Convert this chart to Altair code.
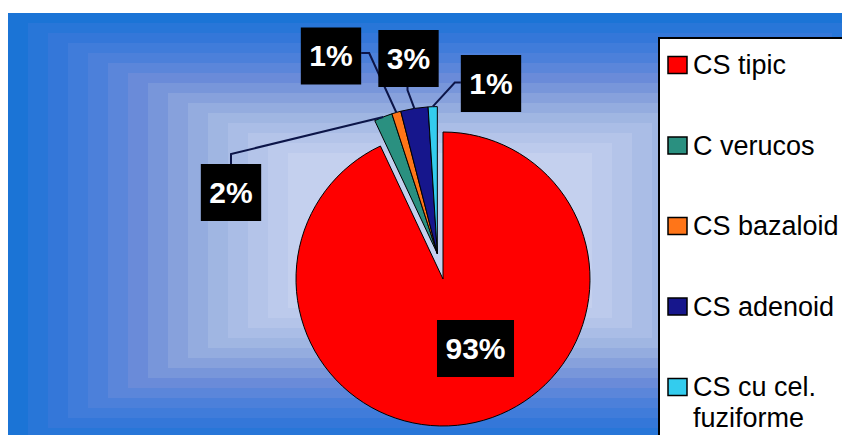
import math
import altair as alt
import pandas as pd

# ---------------- data ----------------
categories = ["CS tipic", "C verucos", "CS bazaloid", "CS adenoid", "CS cu cel. fuziforme"]
values = [93, 2, 1, 3, 1]
colors = ["#ff0000", "#2a9080", "#ff7518", "#16168c", "#33ccee"]
exploded = [False, True, True, True, True]
legend_lines = [["CS tipic"], ["C verucos"], ["CS bazaloid"], ["CS adenoid"], ["CS cu cel.", "fuziforme"]]

# ---------------- layout (pixels, chart coordinates) ----------------
W, H = 834, 427
CX, CY = 435, 271          # pie centre
R = 147                    # pie radius
EXPLODE = 26               # offset of exploded slices
label_offsets = [(32.5, 69.5), (-212, -86.5), (-112, -223), (-34.5, -220.5), (48, -195.5)]
leader_side = [None, "top", "right", "bottom", "left"]
LABEL_FS = 30
LEGEND_FS = 27

total = sum(values)
starts, acc = [], 0
for v in values:
    starts.append(acc)
    acc += v
ends = [s + v for s, v in zip(starts, values)]

pie_df = pd.DataFrame({"category": categories, "value": values, "start": starts,
                       "end": ends, "color": colors, "exploded": exploded})

ex_start = min(s for s, e in zip(starts, exploded) if e)
ex_end = max(s for s, e in zip(ends, exploded) if e)
ex_ang = (ex_start + ex_end) / 2 / total * 2 * math.pi
DX = EXPLODE * math.sin(ex_ang)
DY = -EXPLODE * math.cos(ex_ang)

# ---------------- background (concentric rectangles) ----------------
stops = ["#1b74d6", "#3477d9", "#4c80da", "#6a8bd9", "#87a1dc", "#a0b6e2", "#b4c4e9", "#c4d0ee"]


def hex2rgb(h):
    return tuple(int(h[i:i + 2], 16) for i in (1, 3, 5))


def interp(t):
    pos = t * (len(stops) - 1)
    i = min(int(pos), len(stops) - 2)
    f = pos - i
    a, b = hex2rgb(stops[i]), hex2rgb(stops[i + 1])
    c = [round(a[k] + (b[k] - a[k]) * f) for k in range(3)]
    return "#%02x%02x%02x" % tuple(c)


NB = 15
bands = []
for i in range(NB):
    bands.append({"x": 0 + 20 * i, "x2": 864 - 20 * i, "y": 5 + 10 * i, "y2": 440 - 10 * i,
                  "c": interp(i / (NB - 1)), "o": i})
bg = alt.Chart(pd.DataFrame(bands)).mark_rect(clip=True).encode(
    x=alt.X("x:Q", scale=None), x2="x2:Q",
    y=alt.Y("y:Q", scale=None), y2="y2:Q",
    color=alt.Color("c:N", scale=None),
    order="o:Q",
)

# ---------------- pie ----------------
theta_scale = alt.Scale(domain=[0, total], range=[0, 2 * math.pi])


def arc_layer(df, x, y):
    return alt.Chart(df).mark_arc(outerRadius=R, stroke="#000000", strokeWidth=1).encode(
        theta=alt.Theta("start:Q", scale=theta_scale, stack=None),
        theta2="end:Q",
        color=alt.Color("color:N", scale=None),
        x=alt.value(x), y=alt.value(y),
    )


pie_main = arc_layer(pie_df[~pie_df.exploded], CX, CY)
pie_ex = arc_layer(pie_df[pie_df.exploded], CX + DX, CY + DY)

# ---------------- labels ----------------
boxes, texts, leaders = [], [], []
for i, (cat, v, s, e) in enumerate(zip(categories, values, starts, ends)):
    txt = f"{round(v / total * 100)}%"
    lx, ly = CX + label_offsets[i][0], CY + label_offsets[i][1]
    ndig = len(txt) - 1
    tw = LABEL_FS * (0.556 * ndig + 0.889)
    bw, bh = tw + 17, 57
    boxes.append({"x": lx - bw / 2, "x2": lx + bw / 2, "y": ly - bh / 2, "y2": ly + bh / 2})
    texts.append({"x": lx, "y": ly + 1, "t": txt})
    side = leader_side[i]
    if side:
        mid = (s + e) / 2 / total * 2 * math.pi
        ox = CX + (DX if exploded[i] else 0) + R * math.sin(mid)
        oy = CY + (DY if exploded[i] else 0) - R * math.cos(mid)
        if side == "top":
            ax, ay, ex, ey = lx, ly - bh / 2, lx, ly - bh / 2 - 10
        elif side == "bottom":
            ax, ay, ex, ey = lx - 1, ly + bh / 2, lx - 1, ly + bh / 2 + 3
        elif side == "right":
            ax, ay, ex, ey = lx + bw / 2, ly - 3, lx + bw / 2 + 8, ly - 3
        else:
            ax, ay, ex, ey = lx - bw / 2, ly - 1, lx - bw / 2 - 6, ly - 1
        for k, (px, py) in enumerate([(ax, ay), (ex, ey), (ox, oy)]):
            leaders.append({"id": i, "k": k, "x": px, "y": py})

lead = alt.Chart(pd.DataFrame(leaders)).mark_line(color="#0c1548", strokeWidth=2).encode(
    x=alt.X("x:Q", scale=None), y=alt.Y("y:Q", scale=None),
    detail="id:N", order="k:Q",
)
box = alt.Chart(pd.DataFrame(boxes)).mark_rect(color="#000000").encode(
    x=alt.X("x:Q", scale=None), x2="x2:Q",
    y=alt.Y("y:Q", scale=None), y2="y2:Q",
)
lbl = alt.Chart(pd.DataFrame(texts)).mark_text(
    font="Liberation Sans", fontWeight="bold", fontSize=LABEL_FS, color="#ffffff",
    align="center", baseline="middle",
).encode(x=alt.X("x:Q", scale=None), y=alt.Y("y:Q", scale=None), text="t:N")

# ---------------- legend ----------------
LEG_X, LEG_Y, LEG_Y2 = 651, 30, 432
ROW0, ROW_STEP, LINE_H = 57, 80.5, 31
leg_box = alt.Chart(pd.DataFrame([{"x": LEG_X, "x2": W + 10, "y": LEG_Y, "y2": LEG_Y2}])).mark_rect(
    fill="#ffffff", stroke="#000000", strokeWidth=2, clip=True
).encode(x=alt.X("x:Q", scale=None), x2="x2:Q", y=alt.Y("y:Q", scale=None), y2="y2:Q")

sq_rows, txt_rows = [], []
for i, (c, lines) in enumerate(zip(colors, legend_lines)):
    yc = ROW0 + i * ROW_STEP
    sq_rows.append({"x": 660, "x2": 679, "y": yc - 8.5, "y2": yc + 8.5, "c": c})
    for j, line in enumerate(lines):
        txt_rows.append({"x": 685, "y": yc + 1 + j * LINE_H, "t": line})

leg_sq = alt.Chart(pd.DataFrame(sq_rows)).mark_rect(stroke="#000000", strokeWidth=1.5).encode(
    x=alt.X("x:Q", scale=None), x2="x2:Q", y=alt.Y("y:Q", scale=None), y2="y2:Q",
    color=alt.Color("c:N", scale=None),
)
leg_txt = alt.Chart(pd.DataFrame(txt_rows)).mark_text(
    font="Liberation Sans", fontSize=LEGEND_FS, color="#000000", align="left", baseline="middle",
    clip=True,
).encode(x=alt.X("x:Q", scale=None), y=alt.Y("y:Q", scale=None), text="t:N")

chart = alt.layer(bg, pie_main, pie_ex, lead, box, lbl, leg_box, leg_sq, leg_txt).properties(
    width=W, height=H, autosize=alt.AutoSizeParams(type="none"), padding=0,
    background="#ffffff",
).configure_view(stroke=None)

chart.save("out.html", embed_options={"renderer": "svg", "actions": False})
